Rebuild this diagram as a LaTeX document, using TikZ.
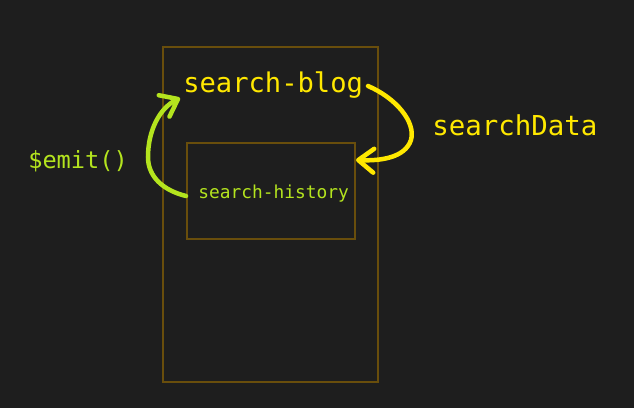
\documentclass[tikz,border=0pt]{standalone}
\usepackage{fontspec}
\setmonofont{DejaVu Sans Mono}
\usepackage{tikz}
\usetikzlibrary{arrows.meta,positioning}
\usepackage{xcolor}
\definecolor{dfbg}{RGB}{30,30,30}
\definecolor{dfbox}{RGB}{105,78,12}
\definecolor{dfyellow}{RGB}{255,232,0}
\definecolor{dfgreen}{RGB}{180,228,30}
\tikzstyle{compbox} = [draw=dfbox, line width=1.4pt]
\tikzstyle{label} = [inner sep=0pt, anchor=base west, font=\ttfamily]
\tikzstyle{flow} = [line width=3.2pt, line cap=round, -{Straight Barb[length=11pt, width=17pt, round]}]

\begin{document}
\begin{tikzpicture}[x=0.025cm, y=-0.025cm]
    % Background
    \fill[dfbg] (0,0) rectangle (634,408);
    \useasboundingbox (0,0) rectangle (634,408);

    % Boxes
    \draw[compbox] (163,47) rectangle (378,382);
    \draw[compbox] (187,143) rectangle (355,239);

    % Components
    \node[label, text=dfyellow, font=\ttfamily\fontsize{19.3}{22}\selectfont] (blog) at (183,92) {search-blog};
    \node[label, text=dfgreen, font=\ttfamily\fontsize{12.7}{15}\selectfont] (history) at (198,198) {search-history};

    % Labels
    \node[label, text=dfyellow, font=\ttfamily\fontsize{19.5}{22}\selectfont] (datalabel) at (432,135) {searchData};
    \node[label, text=dfgreen, font=\ttfamily\fontsize{16.8}{20}\selectfont] (emitlabel) at (28,168) {\$emit()};

    % Arrows
    \coordinate (propsout) at (368,86);
    \coordinate (propsin) at (356,160);
    \coordinate (emitout) at (186,196);
    \coordinate (emitin) at (180,98);
    \draw[flow, dfyellow] (propsout) .. controls (396,98) and (416,122) .. (411,140)
        .. controls (405,158) and (380,161) .. (propsin);
    \draw[flow, dfgreen] (emitout) .. controls (162,190) and (148,176) .. (148,157)
        .. controls (148,130) and (160,108) .. (emitin);
\end{tikzpicture}
\end{document}
